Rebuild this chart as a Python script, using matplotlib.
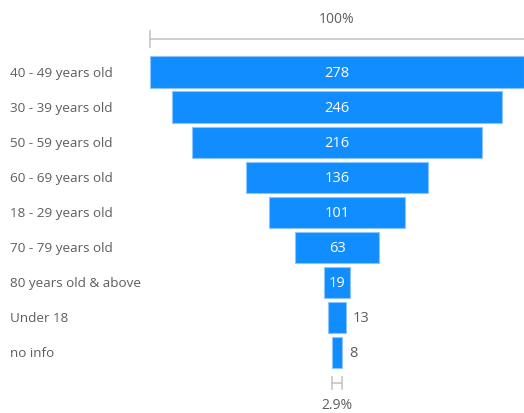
import matplotlib.pyplot as plt
from matplotlib.transforms import blended_transform_factory

# age groups, sorted as in the funnel
age_groups = ["40 - 49 years old", "30 - 39 years old", "50 - 59 years old",
              "60 - 69 years old", "18 - 29 years old", "70 - 79 years old",
              "80 years old & above", "Under 18", "no info"]
counts = [278, 246, 216, 136, 101, 63, 19, 13, 8]

plt.rcParams['font.family'] = ['Open Sans', 'DejaVu Sans']

bar_color = "#118DFF"
text_gray = "#605E5C"
line_gray = "#C8C6C4"

fig = plt.figure(figsize=(5.24, 4.14), dpi=100)
ax = fig.add_axes([0, 0, 1, 1])

top = max(counts)
lefts = [-c / 2 for c in counts]
ax.barh(range(len(counts)), counts, left=lefts, height=0.89,
        color=bar_color, edgecolor="#8CC4FF", linewidth=0.8)

for i, c in enumerate(counts):
    if c / top > 0.05:
        ax.text(0, i, str(c), color="white", ha="center", va="center", fontsize=10.5)
    else:
        ax.text(c / 2 + 5, i, str(c), color=text_gray, ha="left", va="center", fontsize=10.5)

# category labels on the left
trans = blended_transform_factory(ax.transAxes, ax.transData)
for i, g in enumerate(age_groups):
    ax.text(10 / 524, i, g, transform=trans, ha="left", va="center",
            color=text_gray, fontsize=9.7)

# top reference line (100%)
y_top = -0.94
ax.plot([-top / 2, top / 2 + 10], [y_top, y_top], color=line_gray, lw=1.2)
ax.plot([-top / 2, -top / 2], [y_top - 0.22, y_top + 0.22], color=line_gray, lw=1.2)
ax.text(0, -1.52, "100%", ha="center", va="center", color=text_gray, fontsize=10)

# bottom bracket for the last stage
last = counts[-1]
y_bot = 8.86
ax.plot([-last / 2, last / 2], [y_bot, y_bot], color=line_gray, lw=1.2)
for xx in (-last / 2, last / 2):
    ax.plot([xx, xx], [y_bot - 0.18, y_bot + 0.18], color=line_gray, lw=1.2)
ax.text(0, 9.47, f"{last / top * 100:.1f}%", ha="center", va="center",
        color=text_gray, fontsize=10)

ax.set_xlim(-250.5, 139)
ax.set_ylim(9.715, -2.08)
ax.axis("off")

fig.savefig("out.png", dpi=100)
